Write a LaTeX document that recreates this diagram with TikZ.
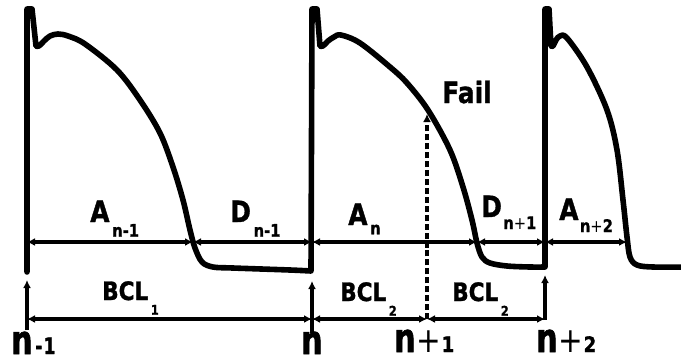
\documentclass[tikz,border=0pt]{standalone}
\usepackage{fontspec}
\setmainfont{DejaVu Sans}[FakeStretch=0.85, BoldFeatures={FakeBold=1.2}]
\newfontfamily\nfam{DejaVu Sans}[FakeStretch=0.75, BoldFeatures={FakeBold=1.5}]
\usetikzlibrary{arrows.meta}
\tikzset{
  ap/.style={line width=4.2pt, line join=round, line cap=round},
  tip/.tip={Latex[length=6pt,width=6pt]},
  dim/.style={line width=2.5pt, tip-tip},
  uparrow/.style={line width=2.5pt, -tip},
  failarrow/.style={line width=2.4pt, dash pattern=on 4.5pt off 2.2pt, -tip},
  lab/.style={anchor=base west, inner sep=0pt, font=\bfseries\fontsize{22}{22}\selectfont},
  bcl/.style={anchor=base west, inner sep=0pt, font=\bfseries\fontsize{19}{19}\selectfont},
  nlab/.style={anchor=base west, inner sep=0pt, font=\nfam\bfseries\fontsize{30}{30}\selectfont}
}
\newcommand{\subA}[1]{\raisebox{-11pt}{\fontsize{13}{13}\selectfont #1}}
\newcommand{\subB}[1]{\raisebox{-11pt}{\fontsize{10}{10}\selectfont #1}}
\newcommand{\plusl}[1]{{\rmfamily\mdseries\fontsize{26}{26}\selectfont +}{\rmfamily\fontsize{16}{16}\selectfont #1}}
\begin{document}
\begin{tikzpicture}[x=0.75pt,y=-0.75pt]
\useasboundingbox (0,0) rectangle (681,362);
\clip (0,0) rectangle (681,362);
% action potential trace
\draw[ap] (27,272) -- (27,9) -- (32,9) -- (36,46)
  -- plot[smooth,tension=0.55] coordinates {(36,46) (39,46) (44,41) (50,36) (58,34) (68,36) (85,44) (117,70) (140,100) (160,133) (173,167) (183,200) (190,230) (195,248) (202,262) (213,267) (233,268) (290,270) (311,271)}
  -- (312,9) -- (317,9) -- (320,46)
  -- plot[smooth,tension=0.55] coordinates {(320,46) (323,46) (328,41) (334,37) (341,35) (360,43) (390,67) (407,83) (428,110) (450,150) (463,187) (472,220) (477,243) (482,257) (490,263) (507,266) (530,267) (545,267)}
  -- (545,9) -- (549,9) -- (551,46)
  -- plot[smooth,tension=0.55] coordinates {(551,46) (553,46) (556,40) (560,36) (567,38) (587,67) (607,110) (617,150) (623,200) (627,237) (630,257) (637,265) (653,267) (685,267)};
% coordinates of the interval marks
\coordinate (a0) at (27,242);
\coordinate (a1) at (193,242);
\coordinate (a2) at (312,242);
\coordinate (a3) at (477,242);
\coordinate (a4) at (545,242);
\coordinate (a5) at (627,242);
\coordinate (b0) at (27,319);
\coordinate (b1) at (312,319);
\coordinate (b2) at (427,319);
\coordinate (b3) at (545,319);
\coordinate (t0) at (27,280);
\coordinate (t1) at (312,281);
\coordinate (t3) at (545,275);
\coordinate (s0) at (27,330);
\coordinate (s1) at (312,333);
\coordinate (s3) at (545,320);
\coordinate (fail) at (427,114);
% A / D intervals
\draw[dim] (a0) -- (a1);
\draw[dim] (a1) -- (a2);
\draw[dim] (a2) -- (a3);
\draw[dim] (a3) -- (a4);
\draw[dim] (a4) -- (a5);
% BCL intervals
\draw[dim] (b0) -- (b1);
\draw[dim] (b1) -- (b2);
\draw[dim] (b2) -- (b3);
% stimulus arrows
\draw[uparrow] (s0) -- (t0);
\draw[uparrow] (s1) -- (t1);
\draw[uparrow] (s3) -- (t3);
\draw[failarrow] (b2) -- (fail);
% labels
\node[lab] (lA1) at (90,222) {A\kern2pt\subA{n-1}};
\node[lab] (lD1) at (230,222) {D\kern2pt\subA{n-1}};
\node[lab] (lA2) at (348,225) {A\kern2pt\raisebox{-7pt}{\fontsize{13}{13}\selectfont n}};
\node[lab] (lD2) at (481,217) {D\kern1pt\raisebox{-9pt}{\fontsize{13}{13}\selectfont n{\mdseries+}1}};
\node[lab] (lA3) at (559,220) {A\kern1pt\raisebox{-9pt}{\fontsize{13}{13}\selectfont n{\mdseries+}2}};
\node[lab] (lfail) at (442,103) {Fail};
\node[bcl] (lB1) at (102,300) {BCL\kern2pt\subB{1}};
\node[bcl] (lB2) at (340,301) {BCL\kern2pt\subB{2}};
\node[bcl] (lB3) at (452,301) {BCL\kern2pt\subB{2}};
\node[nlab] (n0) at (11,354) {n\kern2pt{\fontsize{17}{17}\selectfont -\kern1pt1}};
\node[nlab] (n1) at (301,354) {n};
\node[nlab] (n2) at (394,352) {n\kern1pt\plusl{1}};
\node[nlab] (n3) at (536,352) {n\kern1pt\plusl{2}};
\end{tikzpicture}
\end{document}
